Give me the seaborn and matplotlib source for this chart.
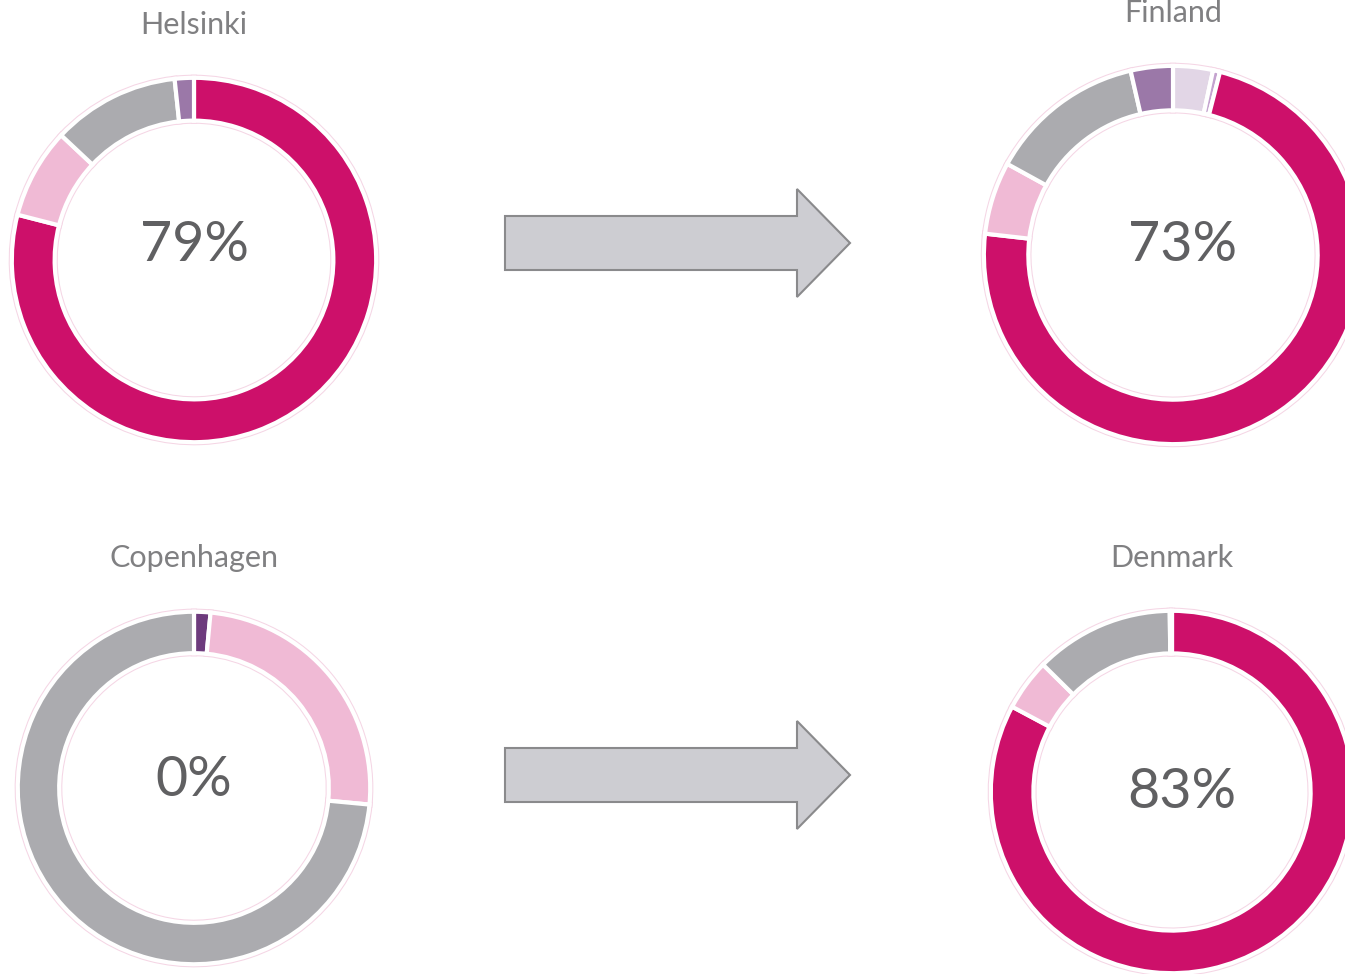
import matplotlib
matplotlib.use("Agg")
import seaborn as sns
import matplotlib.pyplot as plt
from matplotlib.patches import Polygon

# segment order (clockwise from 12 o'clock)
segments = ["Seg A", "Seg B", "Seg C", "Main", "Seg D", "Seg E", "Seg F"]
seg_colors = ["#e2d6e6", "#c4a3cf", "#6d3b7d", "#cd106a", "#f0bad5", "#ababaf", "#9b78a8"]

helsinki = [0, 0, 0, 79.0, 8.0, 11.3, 1.7]
finland = [3.4, 0.6, 0, 72.8, 6.2, 13.4, 3.6]
copenhagen = [0, 0, 1.5, 0, 25.0, 73.5, 0]
denmark = [0, 0, 0, 82.8, 4.6, 12.4, 0.2]

titles = ["Helsinki", "Finland", "Copenhagen", "Denmark"]
shares = [helsinki, finland, copenhagen, denmark]

sns.set_theme(style="white")
plt.rcParams['font.family'] = ['Lato', 'DejaVu Sans']

W, H = 1345, 974
fig = plt.figure(figsize=(W / 100, H / 100), dpi=100)

# (centre x, centre y, radius) in pixels, title y
layout = [(194, 260, 184, 25), (1173, 255, 191, 13), (194, 788, 178, 558), (1172, 792, 183, 558)]
# centre label offsets (pixels): dx right, dy up
text_off = [(0, 15), (10, 10), (0, 8), (10, 0)]

palette = sns.color_palette(seg_colors)

for (cx, cy, r, ty), title, vals, (dx, dy) in zip(layout, titles, shares, text_off):
    ax = fig.add_axes([(cx - r) / W, (H - cy - r) / H, 2 * r / W, 2 * r / H])
    keep = [i for i, v in enumerate(vals) if v > 0]
    v = [vals[i] for i in keep]
    c = [palette[i] for i in keep]
    # faint pink outline under white separators
    ax.pie(v, colors=c, startangle=90, counterclock=False, radius=1,
           wedgeprops=dict(width=0.235, edgecolor="#f5d6e5", linewidth=4.5))
    ax.pie(v, colors=c, startangle=90, counterclock=False, radius=1,
           wedgeprops=dict(width=0.235, edgecolor="white", linewidth=3))
    ax.set_xlim(-1.01, 1.01)
    ax.set_ylim(-1.01, 1.01)
    ax.set_aspect("equal")
    ax.axis("off")
    pct = vals[segments.index("Main")]
    ax.text(dx / r, dy / r, f"{round(pct)}%", ha="center", va="center",
            fontsize=40, color="#606062")
    fig.text(cx / W, 1 - ty / H, title, ha="center", va="center",
             fontsize=22, color="#808082")

# arrows between the donuts
over = fig.add_axes([0, 0, 1, 1], zorder=-1)
over.set_xlim(0, W)
over.set_ylim(H, 0)
over.axis("off")
for ay in [243, 775]:
    pts = [(505, ay - 27), (797, ay - 27), (797, ay - 54), (850, ay),
           (797, ay + 54), (797, ay + 27), (505, ay + 27)]
    over.add_patch(Polygon(pts, closed=True, facecolor="#cdcdd2",
                           edgecolor="#8a8a8c", linewidth=1.5))

fig.savefig("out.png", dpi=100, facecolor="white")
